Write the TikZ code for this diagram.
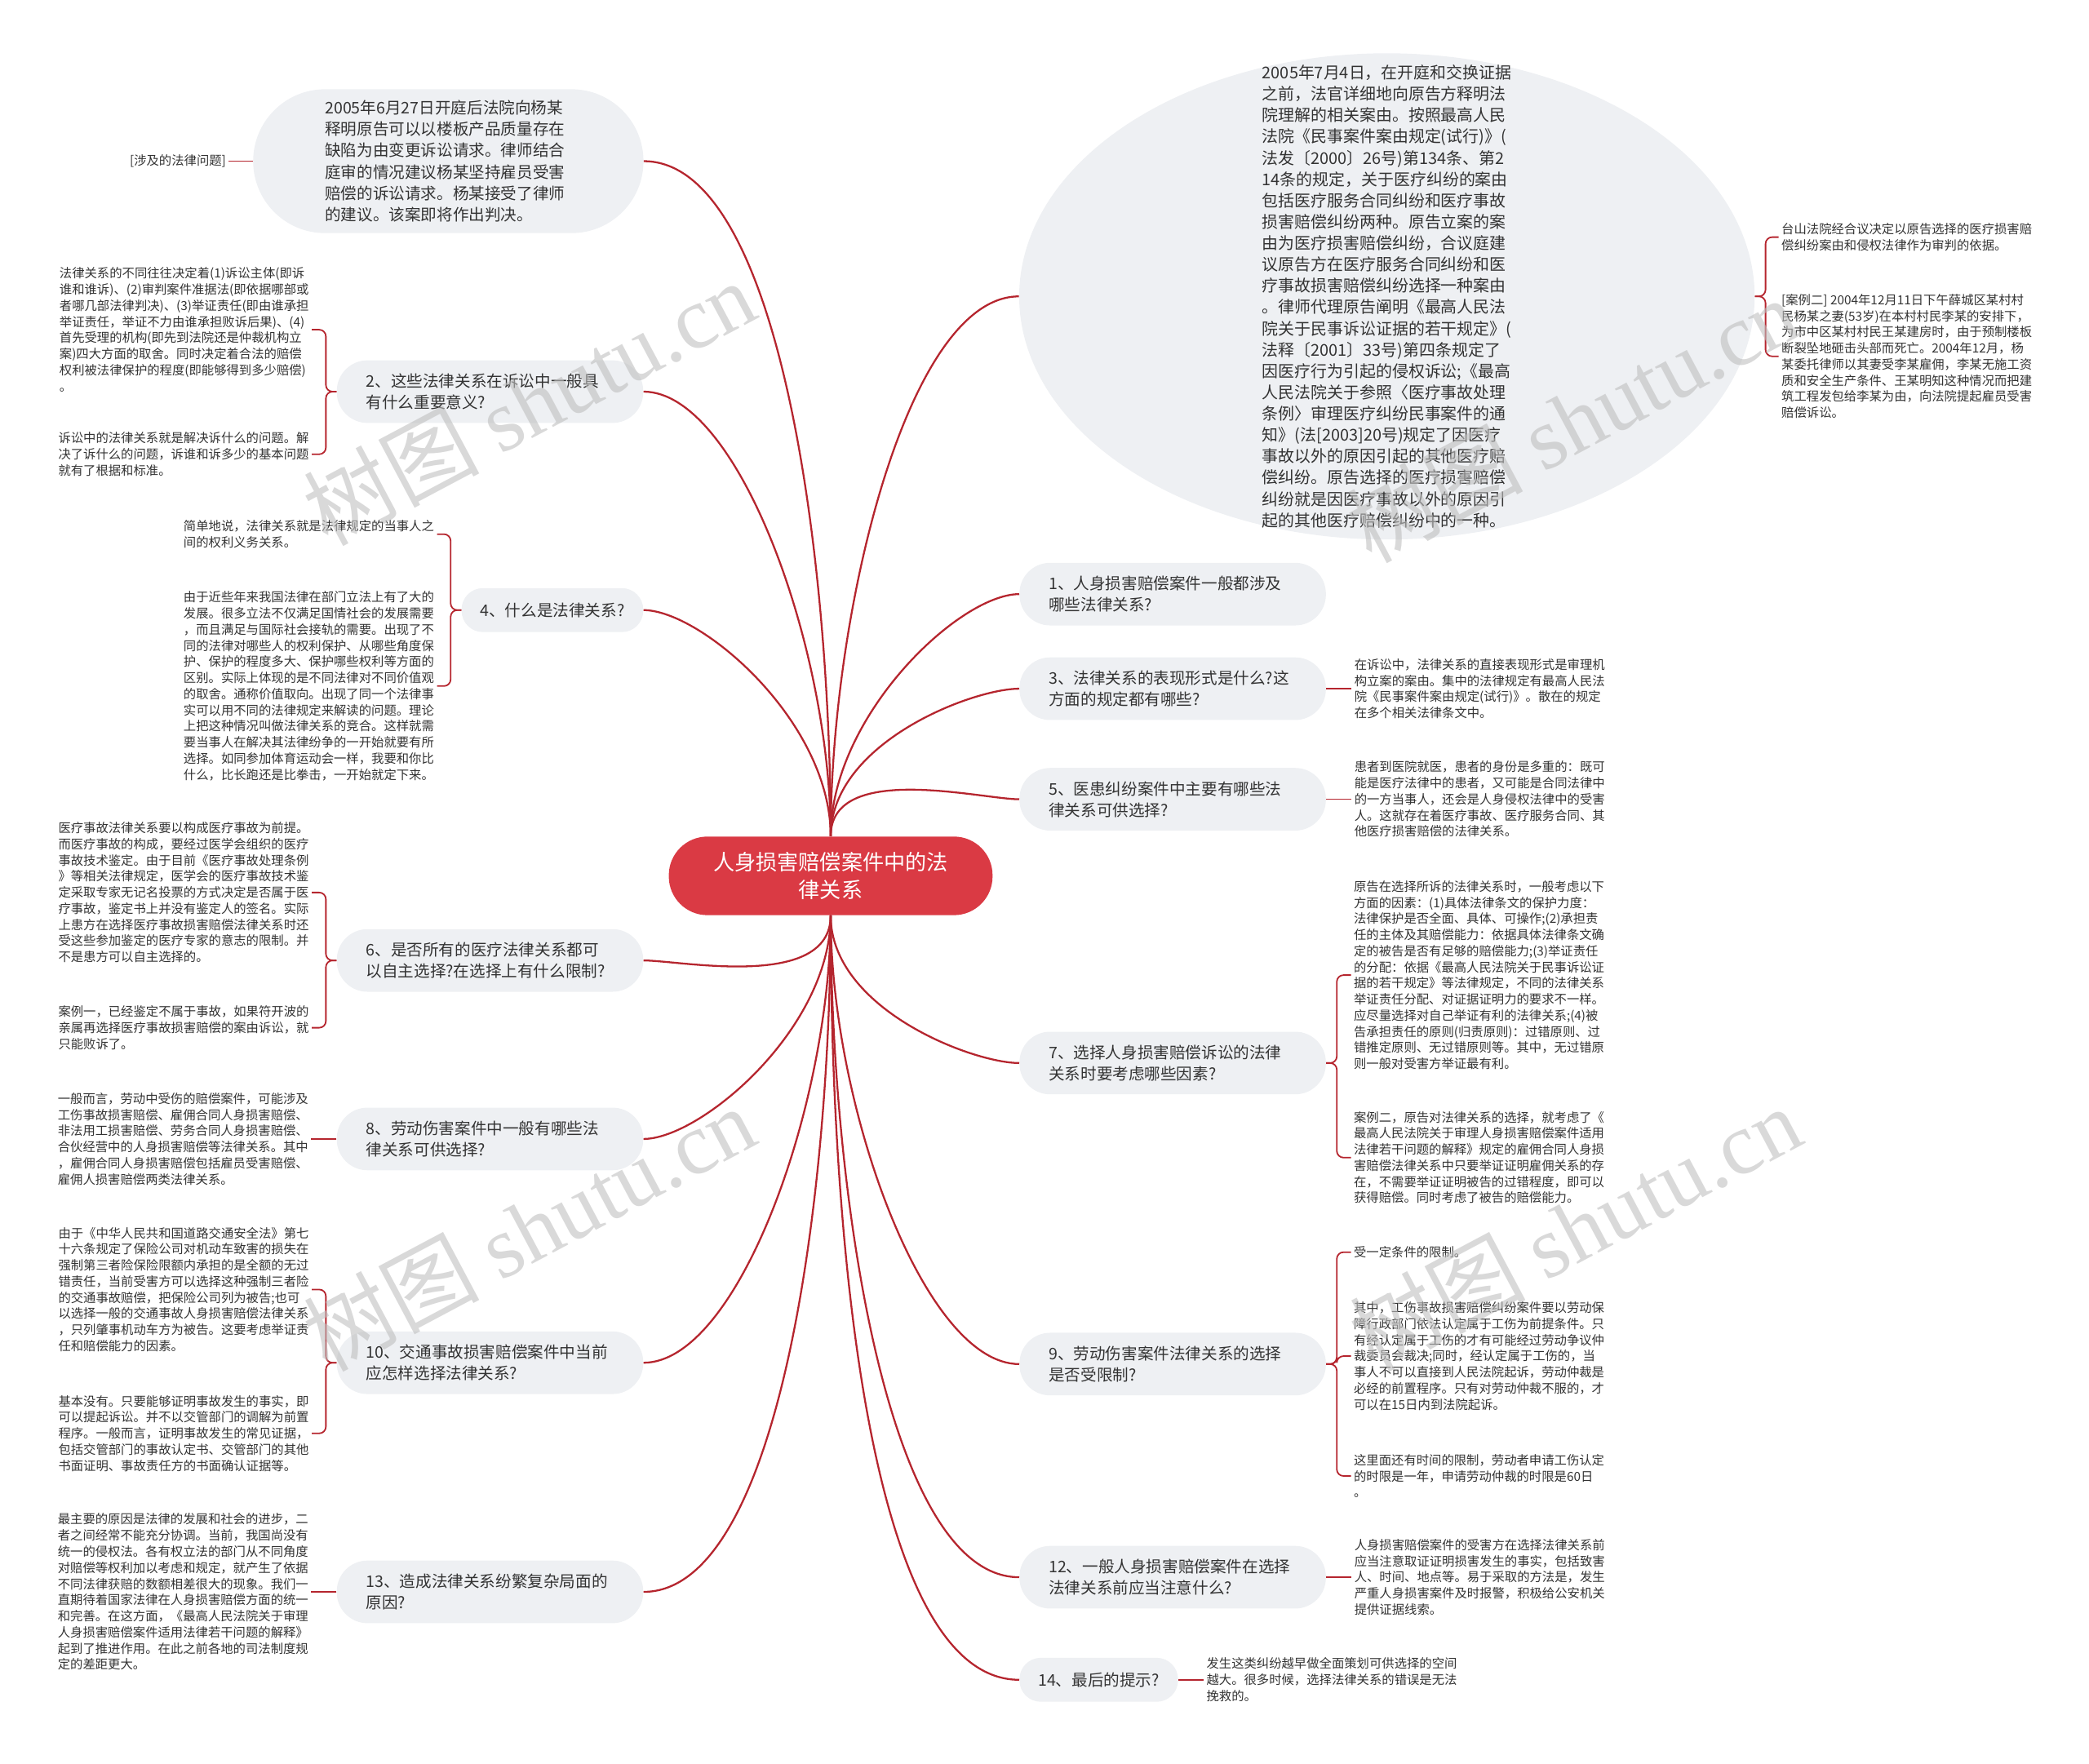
\documentclass[tikz,border=0pt]{standalone}
\usepackage{fontspec}
\setmainfont{Noto Sans CJK SC}
\newfontfamily\wmserif{Liberation Serif}
\usetikzlibrary{positioning,shapes.geometric}
\definecolor{linkred}{HTML}{B5252E}
\definecolor{hubred}{HTML}{DA3A44}
\definecolor{pill}{HTML}{EEF0F3}
\definecolor{ink}{HTML}{333333}

\begin{document}
\begin{tikzpicture}[
  x=1pt, y=1pt,
  hub/.style={fill=hubred,text=white,rounded corners=29pt,align=center,minimum width=243pt,minimum height=59pt,inner sep=0pt,font=\fontsize{16}{21}\selectfont},
  topic/.style={fill=pill,text=ink,rounded corners=23pt,align=left,text width=186pt,inner xsep=22pt,inner ysep=0pt,minimum height=47pt,font=\fontsize{12}{16}\selectfont},
  topicone/.style={fill=pill,text=ink,rounded corners=16pt,inner xsep=14pt,inner ysep=0pt,minimum height=33pt,font=\fontsize{12}{16}\selectfont},
  bubble/.style={fill=pill,text=ink,rounded corners=54pt,align=left,text width=185pt,inner xsep=54pt,inner ysep=0pt,minimum height=108pt,font=\fontsize{12}{16}\selectfont},
  casebg/.style={ellipse,fill=pill,minimum width=552pt,minimum height=365pt,inner sep=0pt},
  casetext/.style={text=ink,align=left,inner sep=0pt,font=\fontsize{12.2}{16}\selectfont},
  leaf/.style={text=ink,align=left,inner xsep=2pt,inner ysep=0pt,font=\fontsize{9.4}{12.1}\selectfont},
  link/.style={draw=linkred,line width=1.4pt,in looseness=0.5},
  twig/.style={draw=linkred,line width=1.1pt,rounded corners=5pt},
  wmark/.style={text=black!25,opacity=0.6,rotate=28,font=\fontsize{66}{66}\selectfont}
]
\useasboundingbox (0,0) rectangle (1568,-1324);

\node[hub] (c) at (623.5,-657.5) {人身损害赔偿案件中的法\\律关系};

\node[bubble] (t) at (336.5,-121) {2005年6月27日开庭后法院向杨某\\释明原告可以以楼板产品质量存在\\缺陷为由变更诉讼请求。律师结合\\庭审的情况建议杨某坚持雇员受害\\赔偿的诉讼请求。杨某接受了律师\\的建议。该案即将作出判决。};
\node[topic,anchor=east] (n2) at (483,-294) {2、这些法律关系在诉讼中一般具\\有什么重要意义?};
\node[topicone,anchor=east] (n4) at (483,-458) {4、什么是法律关系?};
\node[topic,anchor=east] (n6) at (483,-721) {6、是否所有的医疗法律关系都可\\以自主选择?在选择上有什么限制?};
\node[topic,anchor=east] (n8) at (483,-855) {8、劳动伤害案件中一般有哪些法\\律关系可供选择?};
\node[topic,anchor=east] (n10) at (483,-1023) {10、交通事故损害赔偿案件中当前\\应怎样选择法律关系?};
\node[topic,anchor=east] (n13) at (483,-1195) {13、造成法律关系纷繁复杂局面的\\原因?};

\node[casebg] (e) at (1041,-222.5) {};
\node[casetext] (et) at (e.center) {2005年7月4日，在开庭和交换证据\\之前，法官详细地向原告方释明法\\院理解的相关案由。按照最高人民\\法院《民事案件案由规定(试行)》(\\法发〔2000〕26号)第134条、第2\\14条的规定，关于医疗纠纷的案由\\包括医疗服务合同纠纷和医疗事故\\损害赔偿纠纷两种。原告立案的案\\由为医疗损害赔偿纠纷，合议庭建\\议原告方在医疗服务合同纠纷和医\\疗事故损害赔偿纠纷选择一种案由\\。律师代理原告阐明《最高人民法\\院关于民事诉讼证据的若干规定》(\\法释〔2001〕33号)第四条规定了\\因医疗行为引起的侵权诉讼;《最高\\人民法院关于参照〈医疗事故处理\\条例〉审理医疗纠纷民事案件的通\\知》(法[2003]20号)规定了因医疗\\事故以外的原因引起的其他医疗赔\\偿纠纷。原告选择的医疗损害赔偿\\纠纷就是因医疗事故以外的原因引\\起的其他医疗赔偿纠纷中的一种。};
\node[topic,anchor=west] (n1) at (765,-446) {1、人身损害赔偿案件一般都涉及\\哪些法律关系?};
\node[topic,anchor=west] (n3) at (765,-517) {3、法律关系的表现形式是什么?这\\方面的规定都有哪些?};
\node[topic,anchor=west] (n5) at (765,-600) {5、医患纠纷案件中主要有哪些法\\律关系可供选择?};
\node[topic,anchor=west] (n7) at (765,-798) {7、选择人身损害赔偿诉讼的法律\\关系时要考虑哪些因素?};
\node[topic,anchor=west] (n9) at (765,-1024) {9、劳动伤害案件法律关系的选择\\是否受限制?};
\node[topic,anchor=west] (n12) at (765,-1184) {12、一般人身损害赔偿案件在选择\\法律关系前应当注意什么?};
\node[topicone,anchor=west] (n14) at (765,-1261) {14、最后的提示?};

\node[leaf,left=18pt of t] (lt) {[涉及的法律问题]};
\node[leaf,anchor=east] (l2a) at (234,-247.5) {法律关系的不同往往决定着(1)诉讼主体(即诉\\谁和谁诉)、(2)审判案件准据法(即依据哪部或\\者哪几部法律判决)、(3)举证责任(即由谁承担\\举证责任，举证不力由谁承担败诉后果)、(4)\\首先受理的机构(即先到法院还是仲裁机构立\\案)四大方面的取舍。同时决定着合法的赔偿\\权利被法律保护的程度(即能够得到多少赔偿)\\。};
\node[leaf,anchor=east] (l2b) at (234,-341) {诉讼中的法律关系就是解决诉什么的问题。解\\决了诉什么的问题，诉谁和诉多少的基本问题\\就有了根据和标准。};
\node[leaf,anchor=east] (l4a) at (328,-401) {简单地说，法律关系就是法律规定的当事人之\\间的权利义务关系。};
\node[leaf,anchor=east] (l4b) at (328,-515) {由于近些年来我国法律在部门立法上有了大的\\发展。很多立法不仅满足国情社会的发展需要\\，而且满足与国际社会接轨的需要。出现了不\\同的法律对哪些人的权利保护、从哪些角度保\\护、保护的程度多大、保护哪些权利等方面的\\区别。实际上体现的是不同法律对不同价值观\\的取舍。通称价值取向。出现了同一个法律事\\实可以用不同的法律规定来解读的问题。理论\\上把这种情况叫做法律关系的竞合。这样就需\\要当事人在解决其法律纷争的一开始就要有所\\选择。如同参加体育运动会一样，我要和你比\\什么，比长跑还是比拳击，一开始就定下来。};
\node[leaf,anchor=east] (l6a) at (234,-670) {医疗事故法律关系要以构成医疗事故为前提。\\而医疗事故的构成，要经过医学会组织的医疗\\事故技术鉴定。由于目前《医疗事故处理条例\\》等相关法律规定，医学会的医疗事故技术鉴\\定采取专家无记名投票的方式决定是否属于医\\疗事故，鉴定书上并没有鉴定人的签名。实际\\上患方在选择医疗事故损害赔偿法律关系时还\\受这些参加鉴定的医疗专家的意志的限制。并\\不是患方可以自主选择的。};
\node[leaf,anchor=east] (l6b) at (234,-771.5) {案例一，已经鉴定不属于事故，如果符开波的\\亲属再选择医疗事故损害赔偿的案由诉讼，就\\只能败诉了。};
\node[leaf,left=19pt of n8] (l8) {一般而言，劳动中受伤的赔偿案件，可能涉及\\工伤事故损害赔偿、雇佣合同人身损害赔偿、\\非法用工损害赔偿、劳务合同人身损害赔偿、\\合伙经营中的人身损害赔偿等法律关系。其中\\，雇佣合同人身损害赔偿包括雇员受害赔偿、\\雇佣人损害赔偿两类法律关系。};
\node[leaf,anchor=east] (l10a) at (234,-968) {由于《中华人民共和国道路交通安全法》第七\\十六条规定了保险公司对机动车致害的损失在\\强制第三者险保险限额内承担的是全额的无过\\错责任，当前受害方可以选择这种强制三者险\\的交通事故赔偿，把保险公司列为被告;也可\\以选择一般的交通事故人身损害赔偿法律关系\\，只列肇事机动车方为被告。这要考虑举证责\\任和赔偿能力的因素。};
\node[leaf,anchor=east] (l10b) at (234,-1076) {基本没有。只要能够证明事故发生的事实，即\\可以提起诉讼。并不以交管部门的调解为前置\\程序。一般而言，证明事故发生的常见证据，\\包括交管部门的事故认定书、交管部门的其他\\书面证明、事故责任方的书面确认证据等。};
\node[leaf,left=19pt of n13] (l13) {最主要的原因是法律的发展和社会的进步，二\\者之间经常不能充分协调。当前，我国尚没有\\统一的侵权法。各有权立法的部门从不同角度\\对赔偿等权利加以考虑和规定，就产生了依据\\不同法律获赔的数额相差很大的现象。我们一\\直期待着国家法律在人身损害赔偿方面的统一\\和完善。在这方面，《最高人民法院关于审理\\人身损害赔偿案件适用法律若干问题的解释》\\起到了推进作用。在此之前各地的司法制度规\\定的差距更大。};

\node[leaf,anchor=west] (ea) at (1335,-178) {台山法院经合议决定以原告选择的医疗损害赔\\偿纠纷案由和侵权法律作为审判的依据。};
\node[leaf,anchor=west] (eb) at (1335,-267.5) {[案例二] 2004年12月11日下午薛城区某村村\\民杨某之妻(53岁)在本村村民李某的安排下，\\为市中区某村村民王某建房时，由于预制楼板\\断裂坠地砸击头部而死亡。2004年12月，杨\\某委托律师以其妻受李某雇佣，李某无施工资\\质和安全生产条件、王某明知这种情况而把建\\筑工程发包给李某为由，向法院提起雇员受害\\赔偿诉讼。};
\node[leaf,right=19pt of n3] (l3) {在诉讼中，法律关系的直接表现形式是审理机\\构立案的案由。集中的法律规定有最高人民法\\院《民事案件案由规定(试行)》。散在的规定\\在多个相关法律条文中。};
\node[leaf,right=19pt of n5] (l5) {患者到医院就医，患者的身份是多重的：既可\\能是医疗法律中的患者，又可能是合同法律中\\的一方当事人，还会是人身侵权法律中的受害\\人。这就存在着医疗事故、医疗服务合同、其\\他医疗损害赔偿的法律关系。};
\node[leaf,anchor=west] (l7a) at (1014,-732) {原告在选择所诉的法律关系时，一般考虑以下\\方面的因素：(1)具体法律条文的保护力度：\\法律保护是否全面、具体、可操作;(2)承担责\\任的主体及其赔偿能力：依据具体法律条文确\\定的被告是否有足够的赔偿能力;(3)举证责任\\的分配：依据《最高人民法院关于民事诉讼证\\据的若干规定》等法律规定，不同的法律关系\\举证责任分配、对证据证明力的要求不一样。\\应尽量选择对自己举证有利的法律关系;(4)被\\告承担责任的原则(归责原则)：过错原则、过\\错推定原则、无过错原则等。其中，无过错原\\则一般对受害方举证最有利。};
\node[leaf,anchor=west] (l7b) at (1014,-869) {案例二，原告对法律关系的选择，就考虑了《\\最高人民法院关于审理人身损害赔偿案件适用\\法律若干问题的解释》规定的雇佣合同人身损\\害赔偿法律关系中只要举证证明雇佣关系的存\\在，不需要举证证明被告的过错程度，即可以\\获得赔偿。同时考虑了被告的赔偿能力。};
\node[leaf,anchor=west] (l9a) at (1014,-940) {受一定条件的限制。};
\node[leaf,anchor=west] (l9b) at (1014,-1018) {其中，工伤事故损害赔偿纠纷案件要以劳动保\\障行政部门依法认定属于工伤为前提条件。只\\有经认定属于工伤的才有可能经过劳动争议仲\\裁委员会裁决;同时，经认定属于工伤的，当\\事人不可以直接到人民法院起诉，劳动仲裁是\\必经的前置程序。只有对劳动仲裁不服的，才\\可以在15日内到法院起诉。};
\node[leaf,anchor=west] (l9c) at (1014,-1108) {这里面还有时间的限制，劳动者申请工伤认定\\的时限是一年，申请劳动仲裁的时限是60日\\。};
\node[leaf,right=19pt of n12] (l12) {人身损害赔偿案件的受害方在选择法律关系前\\应当注意取证证明损害发生的事实，包括致害\\人、时间、地点等。易于采取的方法是，发生\\严重人身损害案件及时报警，积极给公安机关\\提供证据线索。};
\node[leaf,right=19pt of n14] (l14) {发生这类纠纷越早做全面策划可供选择的空间\\越大。很多时候，选择法律关系的错误是无法\\挽救的。};

\draw[link] (c.north) to[out=90,in=0] (t.east);
\draw[link] (c.north) to[out=90,in=0] (n2.east);
\draw[link] (c.north) to[out=90,in=0] (n4.east);
\draw[link] (c.south) to[out=-90,in=0] (n6.east);
\draw[link] (c.south) to[out=-90,in=0] (n8.east);
\draw[link] (c.south) to[out=-90,in=0] (n10.east);
\draw[link] (c.south) to[out=-90,in=0] (n13.east);
\draw[link] (c.north) to[out=90,in=180] (e.west);
\draw[link] (c.north) to[out=90,in=180] (n1.west);
\draw[link] (c.north) to[out=90,in=180] (n3.west);
\draw[link] (c.north) to[out=90,in=180] (n5.west);
\draw[link] (c.south) to[out=-90,in=180] (n7.west);
\draw[link] (c.south) to[out=-90,in=180] (n9.west);
\draw[link] (c.south) to[out=-90,in=180] (n12.west);
\draw[link] (c.south) to[out=-90,in=180] (n14.west);

\coordinate[left=8pt of n2] (b2);
\coordinate[left=8pt of n4] (b4);
\coordinate[left=8pt of n6] (b6);
\coordinate[left=8pt of n10] (b10);
\coordinate[right=8pt of e] (be);
\coordinate[right=8pt of n7] (b7);
\coordinate[right=8pt of n9] (b9);

\draw[twig] (t.west) -- (lt.east);
\draw[twig] (n2.west) -- (b2) |- (l2a.east);
\draw[twig] (n2.west) -- (b2) |- (l2b.east);
\draw[twig] (n4.west) -- (b4) |- (l4a.east);
\draw[twig] (n4.west) -- (b4) |- (l4b.east);
\draw[twig] (n6.west) -- (b6) |- (l6a.east);
\draw[twig] (n6.west) -- (b6) |- (l6b.east);
\draw[twig] (n8.west) -- (l8.east);
\draw[twig] (n10.west) -- (b10) |- (l10a.east);
\draw[twig] (n10.west) -- (b10) |- (l10b.east);
\draw[twig] (n13.west) -- (l13.east);
\draw[twig] (e.east) -- (be) |- (ea.west);
\draw[twig] (e.east) -- (be) |- (eb.west);
\draw[twig] (n3.east) -- (l3.west);
\draw[twig] (n5.east) -- (l5.west);
\draw[twig] (n7.east) -- (b7) |- (l7a.west);
\draw[twig] (n7.east) -- (b7) |- (l7b.west);
\draw[twig] (n9.east) -- (b9) |- (l9a.west);
\draw[twig] (n9.east) -- (b9) |- (l9b.west);
\draw[twig] (n9.east) -- (b9) |- (l9c.west);
\draw[twig] (n12.east) -- (l12.west);
\draw[twig] (n14.east) -- (l14.west);

\node[wmark] (w1) at (397,-302) {树图 {\wmserif shutu.cn}};
\node[wmark] (w2) at (397,-922) {树图 {\wmserif shutu.cn}};
\node[wmark] (w3) at (1180,-315) {树图 {\wmserif shutu.cn}};
\node[wmark] (w4) at (1182,-922) {树图 {\wmserif shutu.cn}};
\end{tikzpicture}
\end{document}
